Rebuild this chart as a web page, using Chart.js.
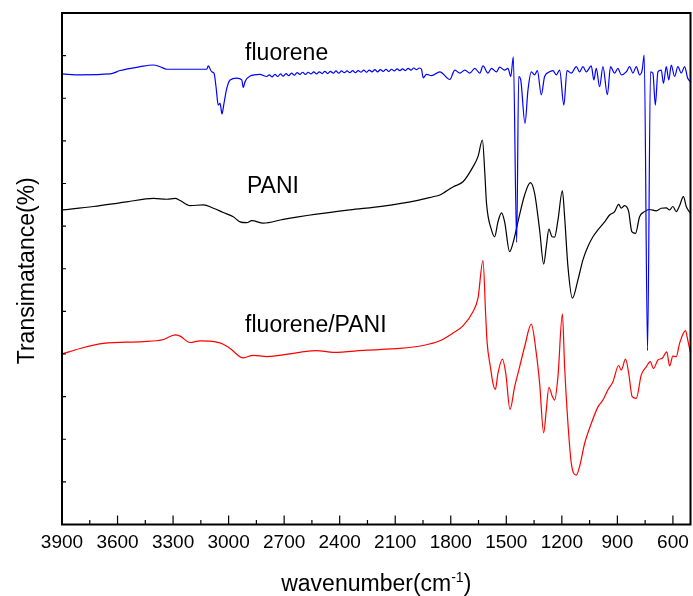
<!DOCTYPE html>
<html><head><meta charset="utf-8">
<script src="https://cdn.jsdelivr.net/npm/chart.js@4"></script>
<style>html,body{margin:0;padding:0;background:#fff}</style>
</head><body>
<canvas id="c" width="693" height="596" style="display:block;width:693px;height:596px"></canvas>
<script>
// ---- data (wavenumber in cm^-1, transmittance in arbitrary %) ----
const fluoreneWn = [3900,3802,3640,3586,3478,3408,3370,3334,3262,3118,3110,3091,3079,3068,3056,3046,3036,3025,3010,2992,2956,2929,2921,2911,2884,2831,2794,
  2780,2765,2750,2735,2720,2705,2690,2675,2660,2645,2630,2615,2600,2585,2570,2555,2540,2525,2510,2495,2480,2465,2450,2435,2420,2405,2390,2375,2360,2345,2330,2315,2300,2285,2270,2255,2240,2225,2210,2195,2180,2165,2150,2135,2120,2105,2090,2075,2060,2045,2030,2015,2000,1985,1970,
  1958,1949,1931,1904,1859,1805,1778,1751,1724,1697,1670,1643,1626,1599,1580,1553,1536,1509,1491,1476,1462,1444,1433,1422,1399,1383,1365,1347,1332,1311,1293,1266,1248,1230,1212,1189,1172,1149,1122,1104,1086,1068,1041,1027,1014,996,978,954,937,915,897,879,852,834,816,798,780,766,755,737,721,708,695,681,663,651,636,622,609,591,573,555,537,520,505];
const fluoreneT = [105.7,105.5,105.7,106.5,107.4,107.8,107.4,106.8,106.8,106.8,107.6,106.2,105.9,102.7,98.4,98.8,96.3,98.8,102.3,104.3,104.7,104.3,102.5,103.9,105.2,105.6,105.1,
  105.5,105.0,105.6,105.1,105.7,105.2,105.8,105.3,105.9,105.4,106.0,105.6,106.1,105.6,106.1,105.7,106.2,105.7,106.2,105.8,106.3,105.8,106.3,105.9,106.4,105.9,106.4,106.0,106.4,106.0,106.5,106.0,106.5,106.1,106.6,106.1,106.6,106.2,106.7,106.2,106.7,106.3,106.8,106.3,106.8,106.4,106.9,106.5,106.9,106.5,107.0,106.6,107.1,106.7,107.1,
  106.8,104.8,105.6,105.3,106.2,104.4,106.6,105.9,106.6,105.9,107.0,105.9,107.6,105.9,107.0,106.2,107.3,106.6,107.0,105.1,109.7,66.2,105.1,104.3,94.1,101.9,106.2,105.5,106.5,100.8,105.1,106.2,106.5,105.5,106.6,98.4,106.5,105.9,107.4,106.2,107.4,106.2,107.6,104.3,107.0,102.7,107.4,100.8,107.4,105.9,107.0,105.5,106.2,107.4,105.9,107.4,105.5,106.6,110.1,40.8,106.2,105.9,98.4,106.2,106.6,103.5,107.4,104.3,107.8,105.1,107.4,105.9,107.4,104.7,103.9];

const paniWn = [3900,3730,3550,3406,3334,3289,3262,3208,3136,3082,3029,2975,2938,2902,2875,2813,2705,2525,2345,2165,1985,1896,1859,1788,1734,1680,1653,1629,1616,1607,1580,1563,1545,1526,1509,1482,1464,1437,1401,1370,1347,1320,1298,1284,1270,1253,1239,1221,1197,1185,1167,1143,1113,1086,1059,1032,1005,969,942,915,893,879,861,839,822,802,780,753,726,690,663,636,618,600,582,564,543,528,505];
const paniT = [73.8,74.6,75.7,76.5,76.3,76.5,76.0,74.8,75.0,74.2,73.2,72.2,71.0,70.8,71.3,70.7,71.6,72.8,73.8,74.7,76.0,76.9,77.3,79.2,80.4,83.9,86.3,90.2,82.4,75.4,69.1,67.5,71.0,73.1,71.0,64.0,66.0,71.0,77.3,80.2,77.7,69.1,61.1,65.2,69.3,67.5,67.4,71.4,78.3,72.2,60.5,53.1,57.4,62.1,65.2,67.5,69.1,71.0,72.6,73.4,75.1,74.2,74.8,73.4,68.7,68.3,72.2,73.4,73.9,73.6,74.2,74.3,73.8,74.6,73.4,74.8,76.9,74.6,73.0];

const compWn = [3900,3802,3676,3460,3352,3289,3262,3208,3154,3100,3029,2992,2921,2867,2794,2615,2525,2435,2255,2075,1949,1859,1788,1734,1680,1653,1626,1611,1604,1586,1572,1559,1545,1521,1503,1480,1455,1428,1401,1365,1338,1320,1298,1284,1270,1251,1239,1221,1197,1185,1167,1149,1122,1104,1077,1041,1005,978,951,924,893,879,856,839,820,798,771,744,722,705,681,658,633,618,600,582,564,532,520,505];
const compT = [40.0,41.3,42.5,42.9,43.4,44.5,44.2,42.7,43.1,43.0,42.3,41.3,39.1,39.7,39.4,40.4,40.8,40.4,40.9,41.3,42.0,43.1,44.9,46.6,49.9,53.1,61.9,48.8,42.9,37.0,33.1,31.7,35.5,38.8,35.5,27.0,32.3,37.0,41.7,47.0,40.2,33.1,21.5,26.9,32.2,30.0,29.2,34.7,49.4,37.0,23.7,14.4,11.6,13.6,19.0,23.7,27.6,29.2,31.6,33.5,37.3,36.2,38.8,35.5,30.0,29.6,35.1,37.0,38.2,36.6,38.6,39.0,40.5,37.2,39.5,39.4,42.5,45.5,43.3,40.2];

const xTickLabels = [600,900,1200,1500,1800,2100,2400,2700,3000,3300,3600,3900];
const xMinorTicks = [750,1050,1350,1650,1950,2250,2550,2850,3150,3450,3750];
const yMinorTicks = [10,20,30,40,50,60,70,80,90,100,110];
const seriesNames = ['fluorene','PANI','fluorene/PANI'];
const seriesColors = ['#0000ff','#000000','#ff0000'];
const curveLabelWn = [2911,2901,2911];
const curveLabelT = [109.0,77.7,45.2];

const FONT = '"Liberation Sans", Arial, Helvetica, sans-serif';
const toPts = (xs, ys) => xs.map((x, i) => ({x, y: ys[i]}));

const overlay = {
  id: 'overlay',
  afterDraw(chart) {
    const {ctx, chartArea: a, scales: {x, y}} = chart;
    ctx.save();
    ctx.strokeStyle = '#000';
    ctx.lineWidth = 2;
    ctx.strokeRect(a.left, a.top, a.right - a.left, a.bottom - a.top);
    ctx.lineWidth = 1.2;
    ctx.beginPath();
    xTickLabels.forEach(v => { const p = x.getPixelForValue(v); ctx.moveTo(p, a.bottom); ctx.lineTo(p, a.bottom - 9); });
    xMinorTicks.forEach(v => { const p = x.getPixelForValue(v); ctx.moveTo(p, a.bottom); ctx.lineTo(p, a.bottom - 4.5); });
    yMinorTicks.forEach(v => { const p = y.getPixelForValue(v); ctx.moveTo(a.left, p); ctx.lineTo(a.left + 4, p); });
    ctx.stroke();

    ctx.fillStyle = '#000';
    ctx.textBaseline = 'alphabetic';
    ctx.textAlign = 'left';
    ctx.font = '23px ' + FONT;
    seriesNames.forEach((n, i) => {
      ctx.fillText(n, x.getPixelForValue(curveLabelWn[i]), y.getPixelForValue(curveLabelT[i]));
    });

    // x axis title with superscript
    const main = 'wavenumber(cm', sup = '-1', close = ')';
    ctx.font = '23px ' + FONT;
    const w1 = ctx.measureText(main).width, w3 = ctx.measureText(close).width;
    ctx.font = '14px ' + FONT;
    const w2 = ctx.measureText(sup).width;
    const cx = (a.left + a.right) / 2;
    let sx = cx - (w1 + w2 + w3) / 2;
    const base = a.bottom + 66.5;
    ctx.font = '23px ' + FONT;
    ctx.fillText(main, sx, base);
    ctx.font = '14px ' + FONT;
    ctx.fillText(sup, sx + w1, base - 9);
    ctx.font = '23px ' + FONT;
    ctx.fillText(close, sx + w1 + w2, base);

    // y axis title
    ctx.translate(a.left - 28, (a.top + a.bottom) / 2 + 2);
    ctx.rotate(-Math.PI / 2);
    ctx.textAlign = 'center';
    ctx.fillText('Transimatance(%)', 0, 0);
    ctx.restore();
  }
};

new Chart(document.getElementById('c'), {
  type: 'line',
  data: {
    datasets: [
      {label: seriesNames[0], data: toPts(fluoreneWn, fluoreneT), borderColor: seriesColors[0]},
      {label: seriesNames[1], data: toPts(paniWn, paniT), borderColor: seriesColors[1]},
      {label: seriesNames[2], data: toPts(compWn, compT), borderColor: seriesColors[2]}
    ]
  },
  options: {
    responsive: false,
    animation: false,
    devicePixelRatio: 1,
    layout: {padding: {top: 13, right: 2.5, left: 0, bottom: 0}},
    elements: {
      point: {radius: 0, hoverRadius: 0},
      line: {borderWidth: 1.2, cubicInterpolationMode: 'monotone', fill: false}
    },
    plugins: {legend: {display: false}, tooltip: {enabled: false}, title: {display: false}},
    events: [],
    scales: {
      x: {
        type: 'linear',
        reverse: true,
        min: 505,
        max: 3900,
        afterBuildTicks: s => { s.ticks = xTickLabels.map(v => ({value: v})); },
        afterFit: s => { s.height = 71.5; },
        grid: {display: false, drawTicks: false},
        border: {display: false},
        ticks: {
          padding: 7,
          color: '#000',
          font: {family: FONT, size: 19},
          maxRotation: 0,
          autoSkip: false,
          callback: v => String(v)
        }
      },
      y: {
        min: 0,
        max: 120,
        afterFit: s => { s.width = 62; },
        grid: {display: false, drawTicks: false},
        border: {display: false},
        ticks: {display: false}
      }
    }
  },
  plugins: [overlay]
});
</script>
</body></html>
